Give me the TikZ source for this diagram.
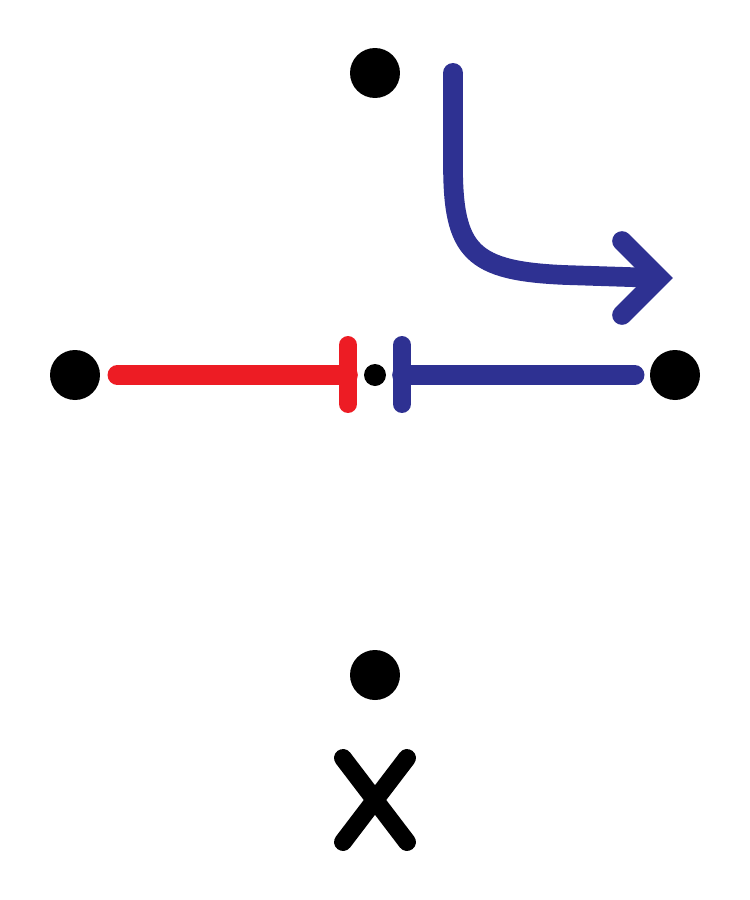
\documentclass[tikz,border=0pt]{standalone}
\usetikzlibrary{calc}
\definecolor{myred}{HTML}{ED1C24}
\definecolor{myblue}{HTML}{2E3192}
\begin{document}
\begin{tikzpicture}[x=0.02cm,y=-0.02cm,
  dot/.style={circle,fill=black,inner sep=0pt,minimum size=1cm},
  smalldot/.style={circle,fill=black,inner sep=0pt,minimum size=0.44cm},
  redline/.style={draw=myred,line width=11.2pt,line cap=round},
  blueline/.style={draw=myblue,line width=11.2pt,line cap=round},
  bar/.style={line width=10.2pt,line cap=round},
  xline/.style={draw=black,line width=10.2pt,line cap=round}]
\useasboundingbox (0,0) rectangle (750,900);
\fill[white] (0,0) rectangle (750,900);
% dots
\node[dot] (top) at (375,73) {};
\node[dot] (left) at (75,375) {};
\node[dot] (right) at (675,375) {};
\node[smalldot] (mid) at (375,375) {};
\node[dot] (bottom) at (375,675) {};
% bars
\coordinate (rb) at (348,375);
\coordinate (bb) at (402,375);
\draw[redline] (left.east) [shorten <=0.34cm] -- (rb);
\draw[bar,draw=myred] ($(rb)+(0,-30)$) -- ($(rb)+(0,29)$);
\draw[blueline] (bb) -- (right.west) [shorten >=0.3cm];
\draw[bar,draw=myblue] ($(bb)+(0,-30)$) -- ($(bb)+(0,29)$);
% curved arrow
\coordinate (a0) at (453,73);
\coordinate (a1) at (453,165);
\coordinate (a2) at (565,275);
\coordinate (tip) at (659,278);
\draw[blueline,line cap=butt] (a0) -- (a1) .. controls (453,252) and (472,271) .. (a2) -- (tip);
\fill[myblue] (a0) circle (0.2cm);
\draw[blueline,line join=miter] ($(tip)+(-37,-37)$) -- (tip) -- ($(tip)+(-37,37)$);
% X
\coordinate (x0) at (375,800);
\draw[xline] ($(x0)+(-32,-42)$) -- ($(x0)+(32,42)$);
\draw[xline] ($(x0)+(32,-42)$) -- ($(x0)+(-32,42)$);
\end{tikzpicture}
\end{document}
